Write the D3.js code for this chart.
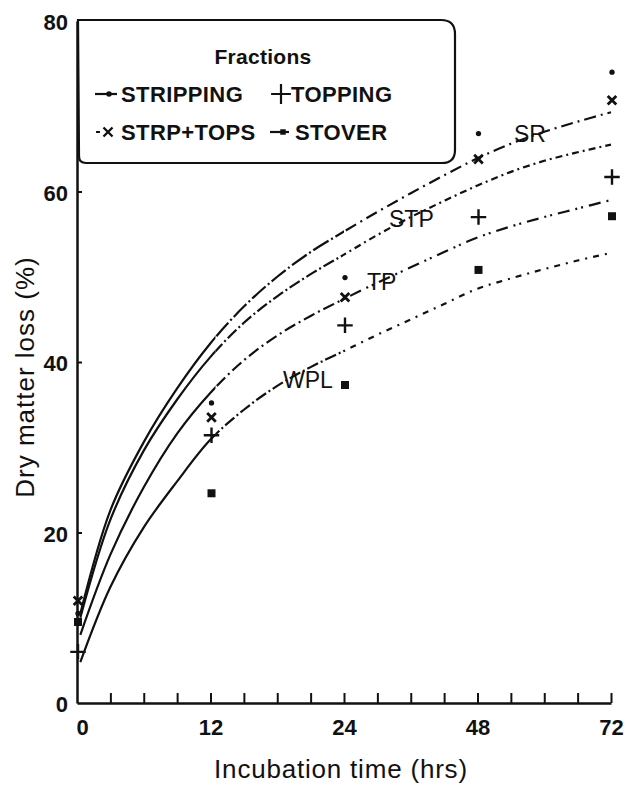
<!DOCTYPE html>
<html>
<head>
<meta charset="utf-8">
<script src="https://cdn.jsdelivr.net/npm/d3@7"></script>
<style>
  html, body { margin: 0; padding: 0; background: #fff; }
  svg { display: block; font-family: "Liberation Sans", Arial, Helvetica, sans-serif; }
</style>
</head>
<body>
<svg id="chart" width="627" height="787"></svg>
<script>
// Fitted dry matter loss curves (%) sampled along incubation time (hrs)
const curveHours = [0.3, 3, 6, 9, 12, 15, 18, 21, 24, 30, 36, 42, 48, 54, 60, 66, 72];
const curveSR  = [10.5, 22.6, 30.6, 36.9, 42.2, 46.5, 50.0, 52.9, 55.3, 57.6, 59.8, 61.9, 63.9, 65.6, 67.0, 68.2, 69.3];
const curveSTP = [10.0, 21.5, 29.6, 35.6, 40.6, 44.6, 47.7, 50.3, 52.6, 54.9, 57.0, 58.9, 60.7, 62.3, 63.6, 64.6, 65.5];
const curveTP  = [8.0, 17.4, 25.3, 31.6, 36.4, 40.2, 43.1, 45.4, 47.4, 49.3, 51.1, 52.9, 54.6, 55.9, 57.0, 58.0, 59.0];
const curveWPL = [4.8, 13.6, 20.6, 26.0, 30.9, 34.4, 37.2, 39.4, 41.3, 43.2, 45.0, 46.8, 48.6, 49.8, 50.9, 51.9, 52.8];
const curveNames = ["SR", "STP", "TP", "WPL"];

// Observed losses for each fraction
const obsHours = [0, 12, 24, 48, 72];
const stripping = [10.5, 35.2, 49.9, 66.8, 74.0];
const topping   = [6.0, 31.4, 44.3, 57.0, 61.7];
const strpTops  = [12.0, 33.5, 47.6, 63.8, 70.7];
const stover    = [9.5, 24.6, 37.3, 50.8, 57.1];

// Axis ticks
const xLabelTicks = [0, 12, 24, 48, 72];
const xMinorTicks = [3, 6, 9, 12, 15, 18, 21, 24, 30, 36, 42, 48, 54, 60, 66, 72];
const yTicks = [0, 20, 40, 60, 80];

(function draw() {
  const svg = d3.select("#chart");
  const plotL = 77, plotR = 611, plotT = 21, plotB = 703;
  const step = (plotR - plotL) / 4;

  // Time axis: equal spacing between the labelled incubation times
  const x = d3.scaleLinear().domain(xLabelTicks).range(xLabelTicks.map((d, i) => plotL + i * step));
  const y = d3.scaleLinear().domain([0, 80]).range([plotB, plotT]);

  // ---- curves ----
  const curveSets = [
    { name: "SR",  values: curveSR,  mid: "18 3 2 3",  late: "12 5 2 5" },
    { name: "STP", values: curveSTP, mid: "12 3 2 3",  late: "7 4 2 4" },
    { name: "TP",  values: curveTP,  mid: "12 4 2 4",  late: "12 6 2 4 2 6" },
    { name: "WPL", values: curveWPL, mid: "12 3 2 3",  late: "2 6 6 6" }
  ];

  const defs = svg.append("defs");
  const splitEarly = x(12) + 5, splitLate = x(24);
  defs.append("clipPath").attr("id", "clipEarly").append("rect")
    .attr("x", 0).attr("y", 0).attr("width", splitEarly).attr("height", 787);
  defs.append("clipPath").attr("id", "clipMid").append("rect")
    .attr("x", splitEarly).attr("y", 0).attr("width", splitLate - splitEarly).attr("height", 787);
  defs.append("clipPath").attr("id", "clipLate").append("rect")
    .attr("x", splitLate).attr("y", 0).attr("width", 627 - splitLate).attr("height", 787);

  const line = d3.line()
    .x(d => x(d[0]))
    .y(d => y(d[1]))
    .curve(d3.curveCatmullRom.alpha(0.5));

  const curveG = svg.append("g").attr("fill", "none").attr("stroke", "#111").attr("stroke-width", 2.2);
  curveSets.forEach(c => {
    const pts = curveHours.map((h, i) => [h, c.values[i]]);
    const dStr = line(pts);
    curveG.append("path").attr("d", dStr).attr("clip-path", "url(#clipEarly)");
    curveG.append("path").attr("d", dStr).attr("clip-path", "url(#clipMid)").attr("stroke-dasharray", c.mid);
    curveG.append("path").attr("d", dStr).attr("clip-path", "url(#clipLate)").attr("stroke-dasharray", c.late);
  });

  // ---- axes ----
  const xMinorAxis = d3.axisBottom(x).tickValues(xMinorTicks).tickSizeInner(-10).tickSizeOuter(0).tickFormat("");
  const gxm = svg.append("g").attr("transform", `translate(0,${plotB})`).call(xMinorAxis);
  gxm.select(".domain").attr("stroke", "#111").attr("stroke-width", 2.5);
  gxm.selectAll(".tick line").attr("stroke", "#111").attr("stroke-width", 2);

  const xLabelAxis = d3.axisBottom(x).tickValues(xLabelTicks).tickSize(0).tickPadding(16).tickFormat(d3.format("d"));
  const gxl = svg.append("g").attr("transform", `translate(0,${plotB})`).call(xLabelAxis);
  gxl.select(".domain").remove();
  gxl.selectAll(".tick text").attr("font-size", 22).attr("font-weight", "bold").attr("fill", "#111")
    .attr("font-family", "Liberation Sans, Arial, sans-serif")
    .attr("dx", d => d === 0 ? 5 : 0);

  const yAxis = d3.axisLeft(y).tickValues(yTicks).tickSizeInner(-5).tickSizeOuter(0).tickPadding(9).tickFormat(d3.format("d"));
  const gy = svg.append("g").attr("transform", `translate(${plotL},0)`).call(yAxis);
  gy.select(".domain").attr("stroke", "#111").attr("stroke-width", 2.5);
  gy.selectAll(".tick line").attr("stroke", "#111").attr("stroke-width", 2)
    .filter(d => d === 0 || d === 80).remove();
  gy.selectAll(".tick text").attr("font-size", 22).attr("font-weight", "bold").attr("fill", "#111")
    .attr("font-family", "Liberation Sans, Arial, sans-serif").attr("dy", "0.4em");

  // Axis titles
  svg.append("text")
    .attr("x", 341).attr("y", 778)
    .attr("text-anchor", "middle").attr("font-size", 26).attr("letter-spacing", 0.8).attr("fill", "#111")
    .text("Incubation time (hrs)");
  svg.append("text")
    .attr("transform", "translate(34,377) rotate(-90)")
    .attr("text-anchor", "middle").attr("font-size", 26).attr("letter-spacing", 1).attr("fill", "#111")
    .text("Dry matter loss (%)");

  // ---- observed points ----
  const markerG = svg.append("g");
  const sym = (type, size) => d3.symbol().type(type).size(size)();
  const pos = d => `translate(${x(d[0]) + 1},${y(d[1])})`;

  markerG.selectAll(".strip").data(obsHours.map((h, i) => [h, stripping[i]])).join("path")
    .attr("d", sym(d3.symbolCircle, 22)).attr("transform", pos).attr("fill", "#111");

  markerG.selectAll(".stover").data(obsHours.map((h, i) => [h, stover[i]])).join("path")
    .attr("d", sym(d3.symbolSquare, 64)).attr("transform", pos).attr("fill", "#111");

  markerG.selectAll(".topm").data(obsHours.map((h, i) => [h, topping[i]])).join("path")
    .attr("d", sym(d3.symbolPlus, 80)).attr("transform", pos)
    .attr("fill", "none").attr("stroke", "#111").attr("stroke-width", 2.4);

  markerG.selectAll(".st").data(obsHours.map((h, i) => [h, strpTops[i]])).join("path")
    .attr("d", sym(d3.symbolX, 50)).attr("transform", pos)
    .attr("fill", "none").attr("stroke", "#111").attr("stroke-width", 2.8);

  // ---- curve labels ----
  const labelPos = { SR: [514, 142], STP: [389, 227], TP: [367, 290], WPL: [283, 388] };
  svg.append("g").selectAll("text").data(curveNames).join("text")
    .attr("x", d => labelPos[d][0]).attr("y", d => labelPos[d][1])
    .attr("font-size", 23).attr("fill", "#111")
    .text(d => d);

  // ---- legend ----
  const lg = svg.append("g");
  lg.append("path")
    .attr("d", "M78,20 H441 Q455,20 455,34 V150 Q455,163 442,163 H86 Q79,163 79,156 Z")
    .attr("fill", "#fff").attr("stroke", "#111").attr("stroke-width", 2.2);
  lg.append("text").attr("x", 263).attr("y", 64).attr("text-anchor", "middle")
    .attr("font-size", 21).attr("font-weight", "bold").attr("letter-spacing", 0.3).attr("fill", "#111").text("Fractions");

  const legendItems = [
    { label: "STRIPPING", kind: "strip", sx: 106, tx: 121, ty: 102 },
    { label: "TOPPING",   kind: "topm",  sx: 281, tx: 291, ty: 102 },
    { label: "STRP+TOPS", kind: "st",    sx: 106, tx: 121, ty: 140 },
    { label: "STOVER",    kind: "stover", sx: 281, tx: 295, ty: 140 }
  ];
  legendItems.forEach(it => {
    const cy = it.ty - 8;
    if (it.kind === "strip") {
      lg.append("line").attr("x1", it.sx - 11).attr("x2", it.sx + 11).attr("y1", cy).attr("y2", cy)
        .attr("stroke", "#111").attr("stroke-width", 2.2);
      lg.append("path").attr("d", sym(d3.symbolCircle, 24)).attr("transform", `translate(${it.sx + 3},${cy})`).attr("fill", "#111");
    } else if (it.kind === "topm") {
      lg.append("path").attr("d", sym(d3.symbolPlus, 130)).attr("transform", `translate(${it.sx},${cy})`)
        .attr("fill", "none").attr("stroke", "#111").attr("stroke-width", 2.2);
    } else if (it.kind === "st") {
      lg.append("path").attr("d", sym(d3.symbolX, 55)).attr("transform", `translate(${it.sx + 2},${cy})`)
        .attr("fill", "none").attr("stroke", "#111").attr("stroke-width", 2.4);
      lg.append("line").attr("x1", it.sx - 10).attr("x2", it.sx - 6).attr("y1", cy).attr("y2", cy)
        .attr("stroke", "#111").attr("stroke-width", 2);
    } else {
      lg.append("line").attr("x1", it.sx - 11).attr("x2", it.sx + 8).attr("y1", cy).attr("y2", cy)
        .attr("stroke", "#111").attr("stroke-width", 2.2);
      lg.append("path").attr("d", sym(d3.symbolSquare, 30)).attr("transform", `translate(${it.sx + 2},${cy})`).attr("fill", "#111");
    }
    lg.append("text").attr("x", it.tx).attr("y", it.ty)
      .attr("font-size", 22).attr("font-weight", "bold").attr("letter-spacing", 0.4).attr("fill", "#111").text(it.label);
  });
})();
</script>
</body>
</html>
